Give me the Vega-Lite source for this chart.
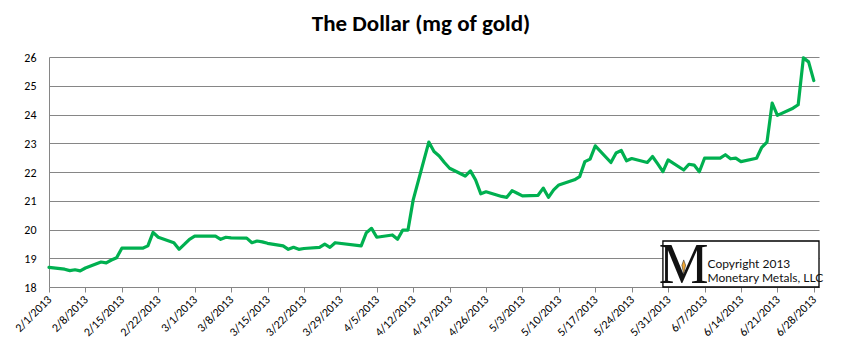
{
  "$schema": "https://vega.github.io/schema/vega-lite/v6.json",
  "width": 770,
  "height": 230,
  "autosize": {"type": "none"},
  "padding": {"left": 49, "top": 57, "right": 25, "bottom": 71},
  "background": "white",
  "title": {
    "text": "The Dollar (mg of gold)",
    "font": "Carlito, Lato, sans-serif",
    "fontSize": 23,
    "fontWeight": "bold",
    "color": "#000000",
    "anchor": "middle",
    "frame": "group",
    "dx": -13,
    "offset": 15
  },
  "config": {
    "view": {"stroke": null},
    "axis": {"labelFont": "Carlito, Lato, sans-serif", "labelFontSize": 12, "labelColor": "#000000"}
  },
  "datasets": {
    "gold": [
      {"date": "2013-02-01", "v": 18.68},
      {"date": "2013-02-04", "v": 18.62},
      {"date": "2013-02-05", "v": 18.57},
      {"date": "2013-02-06", "v": 18.60},
      {"date": "2013-02-07", "v": 18.56},
      {"date": "2013-02-08", "v": 18.66},
      {"date": "2013-02-11", "v": 18.87},
      {"date": "2013-02-12", "v": 18.84},
      {"date": "2013-02-13", "v": 18.94},
      {"date": "2013-02-14", "v": 19.02},
      {"date": "2013-02-15", "v": 19.35},
      {"date": "2013-02-19", "v": 19.35},
      {"date": "2013-02-20", "v": 19.43},
      {"date": "2013-02-21", "v": 19.90},
      {"date": "2013-02-22", "v": 19.73},
      {"date": "2013-02-25", "v": 19.54},
      {"date": "2013-02-26", "v": 19.31},
      {"date": "2013-02-27", "v": 19.48},
      {"date": "2013-02-28", "v": 19.66},
      {"date": "2013-03-01", "v": 19.77},
      {"date": "2013-03-04", "v": 19.77},
      {"date": "2013-03-05", "v": 19.77},
      {"date": "2013-03-06", "v": 19.66},
      {"date": "2013-03-07", "v": 19.73},
      {"date": "2013-03-08", "v": 19.71},
      {"date": "2013-03-11", "v": 19.70},
      {"date": "2013-03-12", "v": 19.54},
      {"date": "2013-03-13", "v": 19.60},
      {"date": "2013-03-14", "v": 19.57},
      {"date": "2013-03-15", "v": 19.52},
      {"date": "2013-03-18", "v": 19.43},
      {"date": "2013-03-19", "v": 19.31},
      {"date": "2013-03-20", "v": 19.38},
      {"date": "2013-03-21", "v": 19.31},
      {"date": "2013-03-22", "v": 19.34},
      {"date": "2013-03-25", "v": 19.38},
      {"date": "2013-03-26", "v": 19.49},
      {"date": "2013-03-27", "v": 19.38},
      {"date": "2013-03-28", "v": 19.54},
      {"date": "2013-04-02", "v": 19.43},
      {"date": "2013-04-03", "v": 19.89},
      {"date": "2013-04-04", "v": 20.04},
      {"date": "2013-04-05", "v": 19.73},
      {"date": "2013-04-08", "v": 19.81},
      {"date": "2013-04-09", "v": 19.66},
      {"date": "2013-04-10", "v": 19.98},
      {"date": "2013-04-11", "v": 19.98},
      {"date": "2013-04-12", "v": 21.03},
      {"date": "2013-04-15", "v": 23.04},
      {"date": "2013-04-16", "v": 22.71},
      {"date": "2013-04-17", "v": 22.56},
      {"date": "2013-04-18", "v": 22.33},
      {"date": "2013-04-19", "v": 22.13},
      {"date": "2013-04-22", "v": 21.86},
      {"date": "2013-04-23", "v": 22.04},
      {"date": "2013-04-24", "v": 21.72},
      {"date": "2013-04-25", "v": 21.24},
      {"date": "2013-04-26", "v": 21.31},
      {"date": "2013-04-29", "v": 21.15},
      {"date": "2013-04-30", "v": 21.12},
      {"date": "2013-05-01", "v": 21.35},
      {"date": "2013-05-02", "v": 21.26},
      {"date": "2013-05-03", "v": 21.17},
      {"date": "2013-05-06", "v": 21.19},
      {"date": "2013-05-07", "v": 21.44},
      {"date": "2013-05-08", "v": 21.12},
      {"date": "2013-05-09", "v": 21.38},
      {"date": "2013-05-10", "v": 21.55},
      {"date": "2013-05-13", "v": 21.73},
      {"date": "2013-05-14", "v": 21.84},
      {"date": "2013-05-15", "v": 22.36},
      {"date": "2013-05-16", "v": 22.45},
      {"date": "2013-05-17", "v": 22.91},
      {"date": "2013-05-20", "v": 22.33},
      {"date": "2013-05-21", "v": 22.66},
      {"date": "2013-05-22", "v": 22.75},
      {"date": "2013-05-23", "v": 22.39},
      {"date": "2013-05-24", "v": 22.47},
      {"date": "2013-05-27", "v": 22.33},
      {"date": "2013-05-28", "v": 22.54},
      {"date": "2013-05-29", "v": 22.28},
      {"date": "2013-05-30", "v": 22.01},
      {"date": "2013-05-31", "v": 22.42},
      {"date": "2013-06-03", "v": 22.07},
      {"date": "2013-06-04", "v": 22.27},
      {"date": "2013-06-05", "v": 22.24},
      {"date": "2013-06-06", "v": 22.01},
      {"date": "2013-06-07", "v": 22.48},
      {"date": "2013-06-10", "v": 22.48},
      {"date": "2013-06-11", "v": 22.60},
      {"date": "2013-06-12", "v": 22.46},
      {"date": "2013-06-13", "v": 22.48},
      {"date": "2013-06-14", "v": 22.36},
      {"date": "2013-06-17", "v": 22.48},
      {"date": "2013-06-18", "v": 22.86},
      {"date": "2013-06-19", "v": 23.04},
      {"date": "2013-06-20", "v": 24.40},
      {"date": "2013-06-21", "v": 23.97},
      {"date": "2013-06-24", "v": 24.22},
      {"date": "2013-06-25", "v": 24.34},
      {"date": "2013-06-26", "v": 25.97},
      {"date": "2013-06-27", "v": 25.83},
      {"date": "2013-06-28", "v": 25.18}
    ],
    "box": [
      {"date": "2013-05-30", "date2": "2013-06-29", "v": 18, "v2": 19.6}
    ],
    "logo": [
      {"date": "2013-06-03", "v": 18.13, "t": "M"}
    ],
    "figure": [
      {"date": "2013-06-03", "v": 18.76}
    ],
    "credit": [
      {"date": "2013-06-07", "v": 18.65, "t": "Copyright 2013"},
      {"date": "2013-06-07", "v": 18.16, "t": "Monetary Metals, LLC"}
    ]
  },
  "encoding": {
    "x": {
      "field": "date",
      "type": "temporal",
      "scale": {"type": "utc", "domain": [1359676800000, 1372464000000]},
      "axis": {
        "title": null,
        "values": [1359676800000, 1360281600000, 1360886400000, 1361491200000, 1362096000000, 1362700800000, 1363305600000, 1363910400000, 1364515200000, 1365120000000, 1365724800000, 1366329600000, 1366934400000, 1367539200000, 1368144000000, 1368748800000, 1369353600000, 1369958400000, 1370563200000, 1371168000000, 1371772800000, 1372377600000],
        "labelExpr": "utcFormat(datum.value, '%-m/%-d/%Y')",
        "labelAngle": -45,
        "labelAlign": "right",
        "labelBaseline": "middle",
        "labelPadding": 5,
        "labelOverlap": false,
        "labelFlush": false,
        "grid": false,
        "domainColor": "#868686",
        "tickColor": "#868686",
        "tickSize": 5
      }
    },
    "y": {
      "field": "v",
      "type": "quantitative",
      "scale": {"domain": [18, 26], "nice": false, "zero": false},
      "axis": {
        "title": null,
        "values": [18, 19, 20, 21, 22, 23, 24, 25, 26],
        "ticks": false,
        "labelPadding": 13,
        "grid": true,
        "gridColor": "#868686",
        "gridWidth": 1,
        "domainColor": "#868686"
      }
    }
  },
  "layer": [
    {
      "data": {"name": "gold"},
      "mark": {"type": "line", "color": "#00B050", "strokeWidth": 3.2, "strokeJoin": "round", "strokeCap": "round"}
    },
    {
      "data": {"name": "box"},
      "mark": {"type": "rect", "fill": "white", "stroke": "#000000", "strokeWidth": 1.3},
      "encoding": {
        "x2": {"field": "date2"},
        "y2": {"field": "v2"}
      }
    },
    {
      "data": {"name": "logo"},
      "mark": {"type": "text", "font": "Liberation Serif", "fontSize": 56, "align": "center", "baseline": "alphabetic", "color": "#111111"},
      "encoding": {
        "text": {"field": "t"}
      }
    },
    {
      "data": {"name": "figure"},
      "mark": {"type": "point", "shape": "M0,-1L0.35,0L0,1.7L-0.35,0Z", "filled": true, "color": "#F5A830", "stroke": "#333333", "strokeWidth": 0.6, "size": 110, "opacity": 1}
    },
    {
      "data": {"name": "credit"},
      "mark": {"type": "text", "font": "Lato", "fontSize": 12, "align": "left", "baseline": "alphabetic", "dx": 3, "color": "#111111"},
      "encoding": {
        "text": {"field": "t"}
      }
    }
  ]
}
